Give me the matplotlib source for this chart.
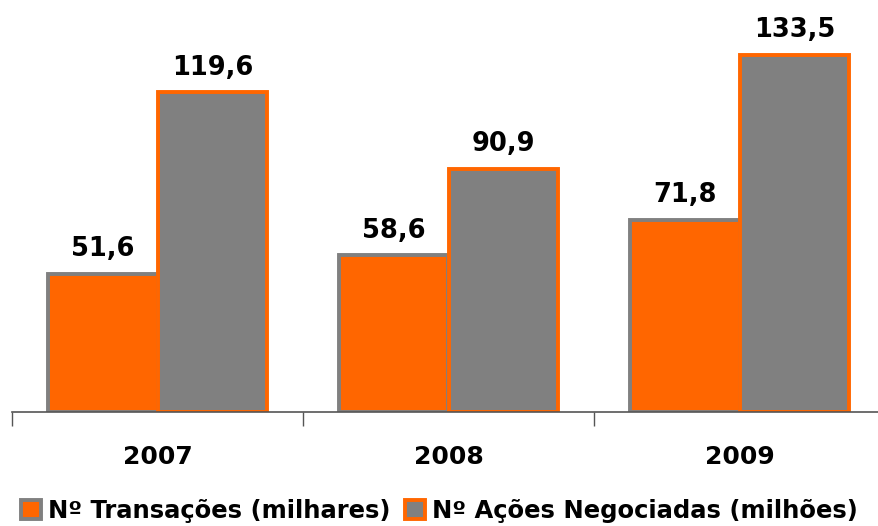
import matplotlib.pyplot as plt
import numpy as np

years = ['2007', '2008', '2009']
transacoes = [51.6, 58.6, 71.8]
acoes = [119.6, 90.9, 133.5]
labels = ['Nº Transações (milhares)', 'Nº Ações Negociadas (milhões)']

orange = '#FF6600'
gray = '#808080'

fig = plt.figure(figsize=(8.79, 5.26), dpi=100)
ax = fig.add_axes([12 / 879, (526 - 412) / 526, 873 / 879, 412 / 526])

x = np.arange(len(years))
w = 0.378
b1 = ax.bar(x - w / 2, transacoes, w, color=orange, edgecolor=gray, linewidth=2.8, label=labels[0])
b2 = ax.bar(x + w / 2, acoes, w, color=gray, edgecolor=orange, linewidth=2.8, label=labels[1])

# value labels above each bar
for bars, vals in [(b1, transacoes), (b2, acoes)]:
    for rect, v in zip(bars, vals):
        ax.text(rect.get_x() + rect.get_width() / 2, v + 4.3, f'{v:.1f}'.replace('.', ','),
                ha='center', va='bottom', fontsize=18.5, fontweight='bold')

ax.set_xlim(-0.5, 2.5)
ax.set_ylim(0, 154)
ax.set_yticks([])
for s in ['top', 'right', 'left']:
    ax.spines[s].set_visible(False)
ax.spines['bottom'].set_color('#555555')
ax.spines['bottom'].set_linewidth(1.2)

ax.set_xticks([-0.5, 0.5, 1.5, 2.5])
ax.set_xticklabels([])
ax.tick_params(axis='x', direction='out', length=10, width=1, color='#555555')
for xi, yr in zip(x, years):
    ax.text(xi, -0.11, yr, transform=ax.get_xaxis_transform(), ha='center', va='center',
            fontsize=18, fontweight='bold')

fig.legend(handles=[b1, b2], labels=labels, loc='center', bbox_to_anchor=(0.5, 15 / 526),
           ncol=2, frameon=False, prop={'size': 17.5, 'weight': 'bold'},
           handlelength=0.8, handleheight=0.8, handletextpad=0.3, columnspacing=0.6)

fig.savefig('out.png', dpi=100)
